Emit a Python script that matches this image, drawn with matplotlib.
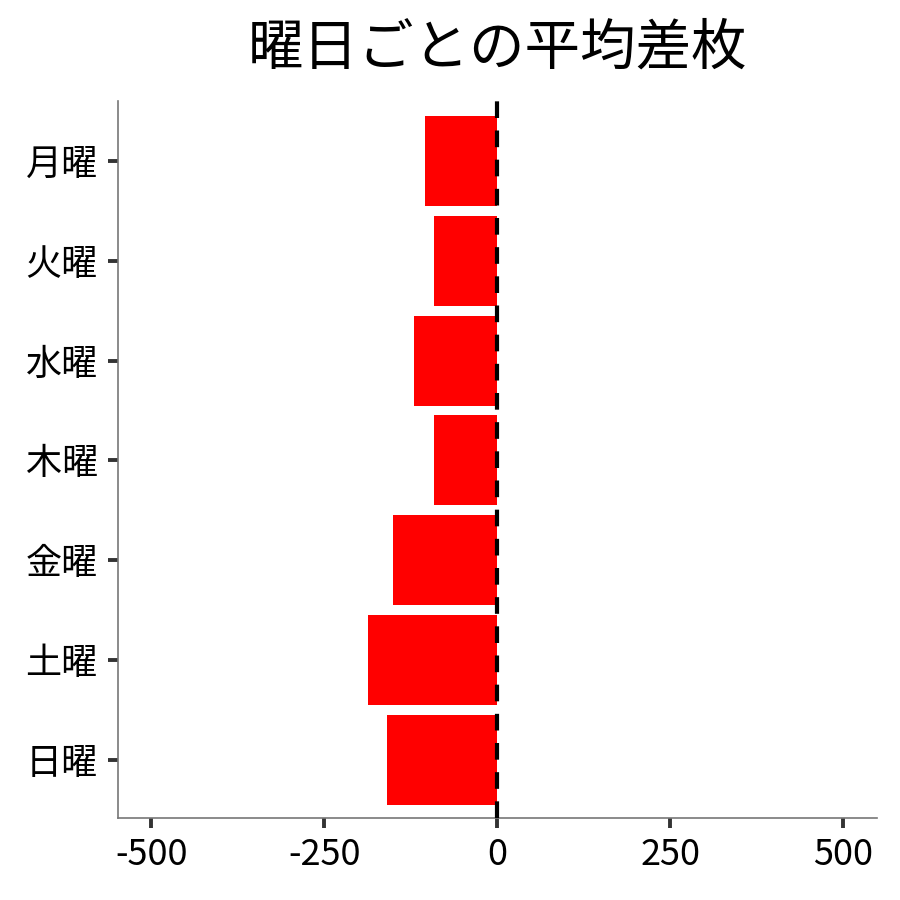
import matplotlib
matplotlib.use("Agg")
import matplotlib.pyplot as plt

plt.rcParams['font.family'] = ['Noto Sans CJK JP', 'DejaVu Sans']

# 曜日ごとの平均差枚
days = ['月曜', '火曜', '水曜', '木曜', '金曜', '土曜', '日曜']
avg_diff = [-105, -91, -120, -92, -150, -186, -159]
x_ticks = [-500, -250, 0, 250, 500]

fig, ax = plt.subplots(figsize=(9, 9), dpi=100)
fig.subplots_adjust(left=0.131, right=0.974, top=0.888, bottom=0.091)

pos = list(range(len(days)))
ax.barh(pos, avg_diff, height=0.9, color='#ff0000', zorder=2)
ax.axvline(0, color='black', linestyle=(0, (4, 3)), linewidth=3, zorder=3)

ax.set_yticks(pos)
ax.set_yticklabels(days)
ax.set_ylim(len(days) - 0.42, -0.6)
ax.set_xticks(x_ticks)
ax.set_xticklabels([str(v) for v in x_ticks])
ax.set_xlim(-548, 548)

for side in ['top', 'right']:
    ax.spines[side].set_visible(False)
for side in ['left', 'bottom']:
    ax.spines[side].set_color('#777777')
    ax.spines[side].set_linewidth(1.2)

ax.tick_params(axis='both', colors='#333333', length=7.5, width=2.8,
               labelsize=26, labelcolor='black')
ax.tick_params(axis='y', pad=7)
ax.tick_params(axis='x', pad=6)

ax.set_title('曜日ごとの平均差枚', fontsize=40, pad=26)

fig.savefig('out.png', dpi=100, facecolor='white')
